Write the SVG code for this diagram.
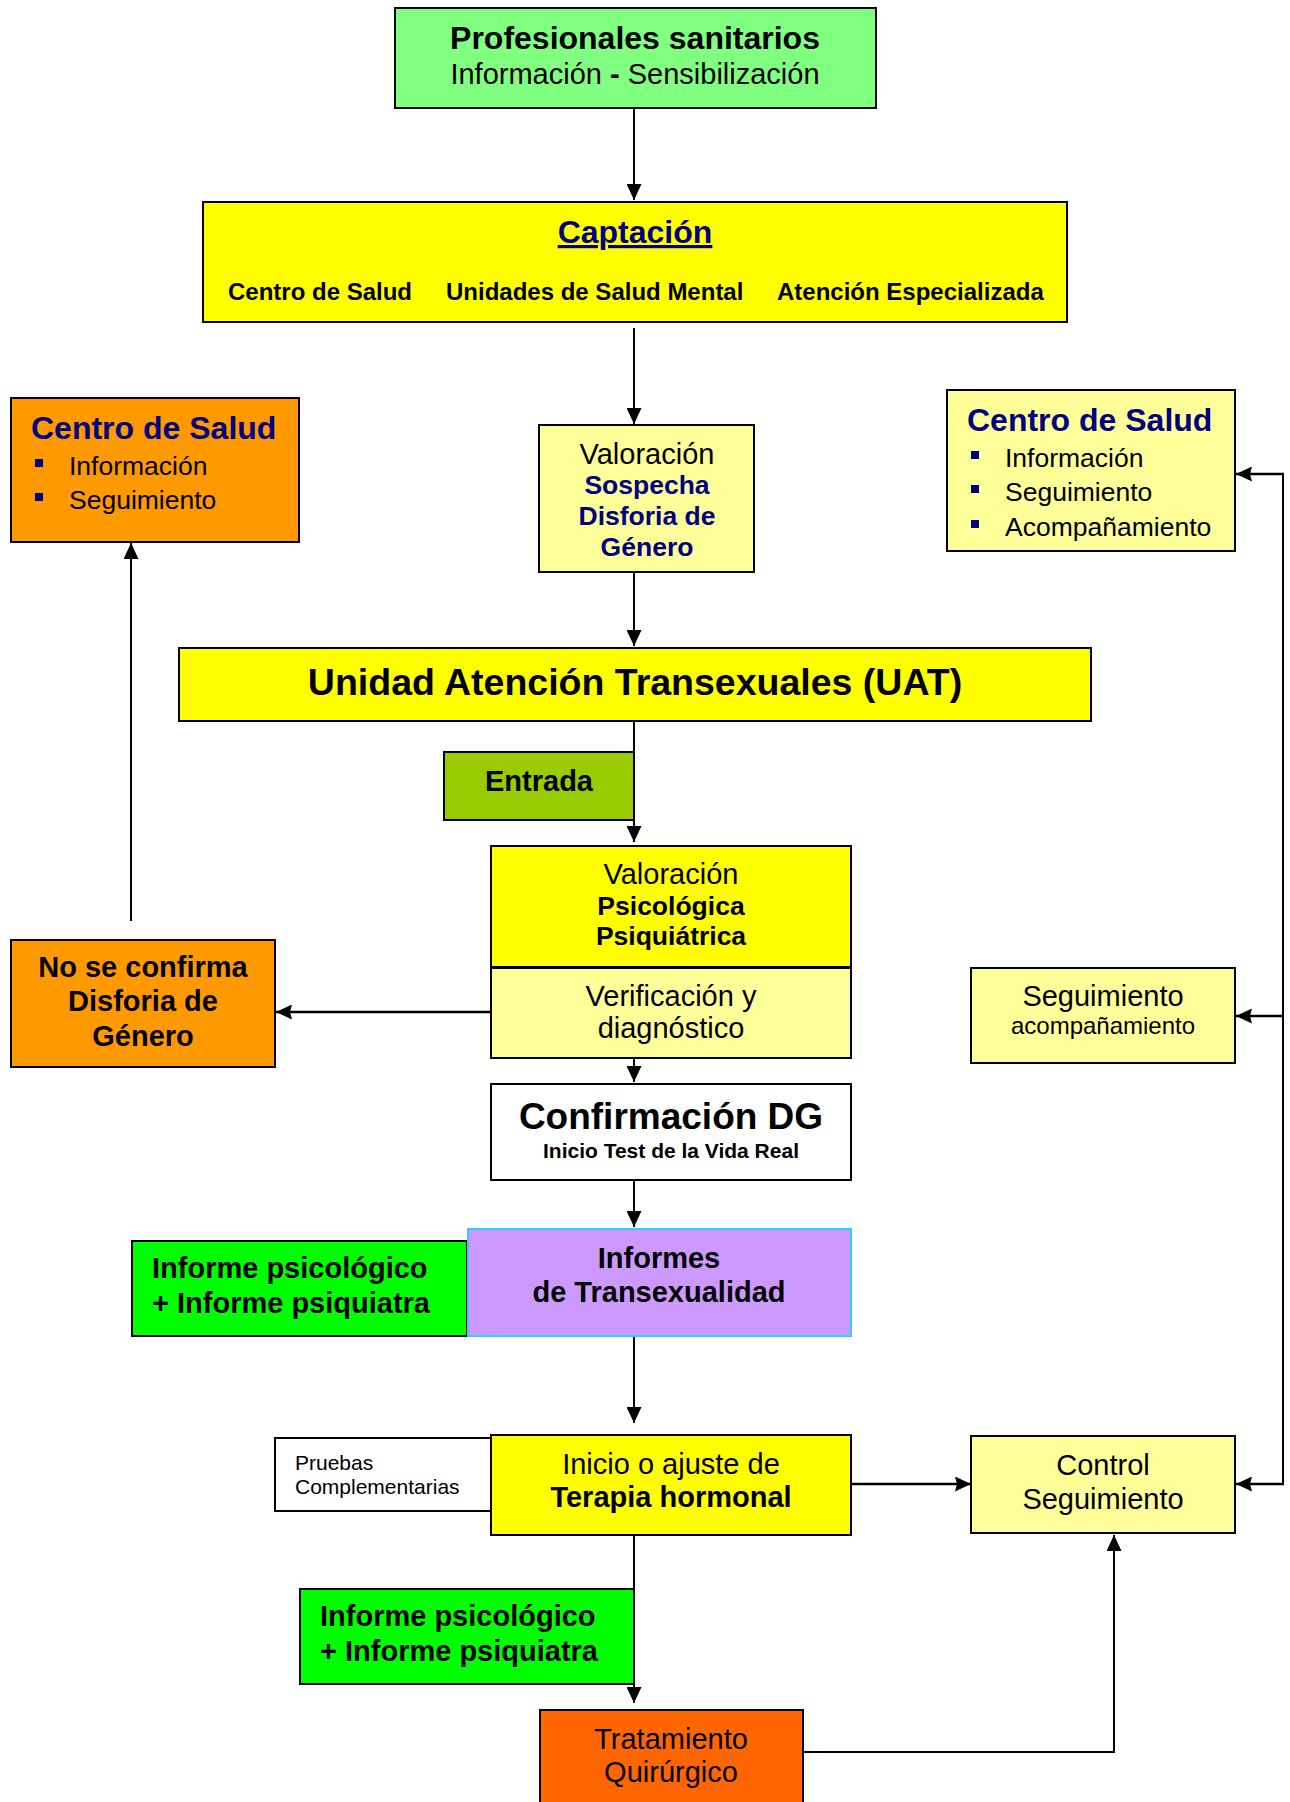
<svg xmlns="http://www.w3.org/2000/svg" width="1290" height="1802" viewBox="0 0 1290 1802">
<style>
.bx{stroke:#000;stroke-width:2}
text{font-family:"Liberation Sans",Arial,sans-serif;fill:#000}
.m{text-anchor:middle}
.b{font-weight:bold}
.nv{fill:#000080}
.f21{font-size:21px}.f24{font-size:24px}.f265{font-size:26.5px}.f29{font-size:29px}.f32{font-size:32px}.f37{font-size:37px}.f375{font-size:37.5px}
.ln{fill:none;stroke:#000;stroke-width:2}
.hv{fill:none;stroke:#000;stroke-width:2.5}
.bul{fill:#000080}
</style>
<defs>
<marker id="a" viewBox="0 0 16 15" markerWidth="16" markerHeight="15" refX="16" refY="7.5" markerUnits="userSpaceOnUse" orient="auto"><path d="M0,0 L16,7.5 L0,15 z" fill="#000"/></marker>
<marker id="h" viewBox="0 0 16 15" markerWidth="16" markerHeight="15" refX="16" refY="7.5" markerUnits="userSpaceOnUse" orient="auto"><path d="M0,0 L16,7.5 L0,15 L2,7.5 z" fill="#000"/></marker>
</defs>
<rect width="1290" height="1802" fill="#fff"/>

<g id="connectors">
<path class="ln" d="M634,108 V200" marker-end="url(#a)"/>
<path class="ln" d="M634,328 V424" marker-end="url(#a)"/>
<path class="ln" d="M634,572 V646" marker-end="url(#a)"/>
<path class="ln" d="M634,721 V842" marker-end="url(#a)"/>
<path class="hv" d="M491,1012 H276" marker-end="url(#h)"/>
<path class="ln" d="M131,921 V543" marker-end="url(#a)"/>
<path class="ln" d="M634,1058 V1082" marker-end="url(#a)"/>
<path class="ln" d="M634,1181 V1227" marker-end="url(#a)"/>
<path class="ln" d="M634,1337 V1423" marker-end="url(#a)"/>
<path class="hv" d="M851,1484 H971" marker-end="url(#h)"/>
<path class="ln" d="M1283,474 V1484"/>
<path class="hv" d="M1284,474 H1236" marker-end="url(#h)"/>
<path class="hv" d="M1284,1016 H1236" marker-end="url(#h)"/>
<path class="hv" d="M1284,1484 H1236" marker-end="url(#h)"/>
<path class="ln" d="M634,1535 V1703" marker-end="url(#a)"/>
<path class="ln" d="M803,1752 H1114 V1535" marker-end="url(#a)"/>
</g>

<g id="profesionales">
<rect class="bx" x="395" y="8" width="481" height="100" fill="#80FF80"/>
<text class="m b f32" x="635" y="49">Profesionales sanitarios</text>
<text class="m f29" x="635" y="84">Información <tspan class="b">-</tspan> Sensibilización</text>
</g>

<g id="captacion">
<rect class="bx" x="203" y="202" width="864" height="120" fill="#FFFF00"/>
<text class="m b f32 nv" x="635" y="243" text-decoration="underline">Captación</text>
<text class="b f24" x="228" y="300">Centro de Salud</text>
<text class="b f24" x="446" y="300">Unidades de Salud Mental</text>
<text class="b f24" x="777" y="300">Atención Especializada</text>
</g>

<g id="centro-salud-izq">
<rect class="bx" x="11" y="398" width="288" height="144" fill="#FF9900"/>
<text class="b f32 nv" x="31" y="439">Centro de Salud</text>
<rect class="bul" x="35" y="459" width="8" height="8"/>
<text class="f265" x="69" y="475">Información</text>
<rect class="bul" x="35" y="493" width="8" height="8"/>
<text class="f265" x="69" y="509">Seguimiento</text>
</g>

<g id="valoracion-sospecha">
<rect class="bx" x="539" y="425" width="215" height="147" fill="#FFFF99"/>
<text class="m f29" x="647" y="464">Valoración</text>
<text class="m b f265 nv" x="647" y="494">Sospecha</text>
<text class="m b f265 nv" x="647" y="525">Disforia de</text>
<text class="m b f265 nv" x="647" y="556">Género</text>
</g>

<g id="centro-salud-der">
<rect class="bx" x="947" y="390" width="288" height="161" fill="#FFFF99"/>
<text class="b f32 nv" x="967" y="431">Centro de Salud</text>
<rect class="bul" x="971" y="451" width="8" height="8"/>
<text class="f265" x="1005" y="467">Información</text>
<rect class="bul" x="971" y="485" width="8" height="8"/>
<text class="f265" x="1005" y="501">Seguimiento</text>
<rect class="bul" x="971" y="520" width="8" height="8"/>
<text class="f265" x="1005" y="536">Acompañamiento</text>
</g>

<g id="uat">
<rect class="bx" x="179" y="648" width="912" height="73" fill="#FFFF00"/>
<text class="m b f375" x="635" y="695">Unidad Atención Transexuales (UAT)</text>
</g>

<g id="entrada">
<rect class="bx" x="444" y="752" width="190" height="68" fill="#99CC00"/>
<text class="m b f29" x="539" y="791">Entrada</text>
</g>

<g id="valoracion-psico">
<rect class="bx" x="491" y="846" width="360" height="121" fill="#FFFF00"/>
<text class="m f29" x="671" y="884">Valoración</text>
<text class="m b f265" x="671" y="915">Psicológica</text>
<text class="m b f265" x="671" y="945">Psiquiátrica</text>
</g>

<g id="verificacion">
<rect class="bx" x="491" y="968" width="360" height="90" fill="#FFFF99"/>
<text class="m f29" x="671" y="1006">Verificación y</text>
<text class="m f29" x="671" y="1038">diagnóstico</text>
</g>

<g id="no-confirma">
<rect class="bx" x="11" y="940" width="264" height="127" fill="#FF9900"/>
<text class="m b f29" x="143" y="977">No se confirma</text>
<text class="m b f29" x="143" y="1011">Disforia de</text>
<text class="m b f29" x="143" y="1046">Género</text>
</g>

<g id="seguimiento-acomp">
<rect class="bx" x="971" y="968" width="264" height="95" fill="#FFFF99"/>
<text class="m f29" x="1103" y="1006">Seguimiento</text>
<text class="m f24" x="1103" y="1034">acompañamiento</text>
</g>

<g id="confirmacion">
<rect class="bx" x="491" y="1084" width="360" height="96" fill="#FFFFFF"/>
<text class="m b f37" x="671" y="1129">Confirmación DG</text>
<text class="m b f21" x="671" y="1158">Inicio Test de la Vida Real</text>
</g>

<g id="informe-1">
<rect class="bx" x="132" y="1241" width="335" height="95" fill="#00FF00"/>
<text class="b f29" x="152" y="1278">Informe psicológico</text>
<text class="b f29" x="152" y="1313">+ Informe psiquiatra</text>
</g>

<g id="informes-trans">
<rect x="468" y="1229" width="383" height="107" fill="#CC99FF" stroke="#33CCFF" stroke-width="2"/>
<text class="m b f29" x="659" y="1268">Informes</text>
<text class="m b f29" x="659" y="1302">de Transexualidad</text>
</g>

<g id="pruebas">
<rect class="bx" x="275" y="1438" width="216" height="73" fill="#FFFFFF"/>
<text class="f21" x="295" y="1470">Pruebas</text>
<text class="f21" x="295" y="1494">Complementarias</text>
</g>

<g id="terapia">
<rect class="bx" x="491" y="1435" width="360" height="100" fill="#FFFF00"/>
<text class="m f29" x="671" y="1474">Inicio o ajuste de</text>
<text class="m b f29" x="671" y="1507">Terapia hormonal</text>
</g>

<g id="control">
<rect class="bx" x="971" y="1436" width="264" height="97" fill="#FFFF99"/>
<text class="m f29" x="1103" y="1475">Control</text>
<text class="m f29" x="1103" y="1509">Seguimiento</text>
</g>

<g id="informe-2">
<rect class="bx" x="300" y="1589" width="334" height="95" fill="#00FF00"/>
<text class="b f29" x="320" y="1626">Informe psicológico</text>
<text class="b f29" x="320" y="1661">+ Informe psiquiatra</text>
</g>

<g id="tratamiento">
<rect class="bx" x="540" y="1710" width="263" height="100" fill="#FF6600"/>
<text class="m f29" x="671" y="1749">Tratamiento</text>
<text class="m f29" x="671" y="1782">Quirúrgico</text>
</g>
</svg>
